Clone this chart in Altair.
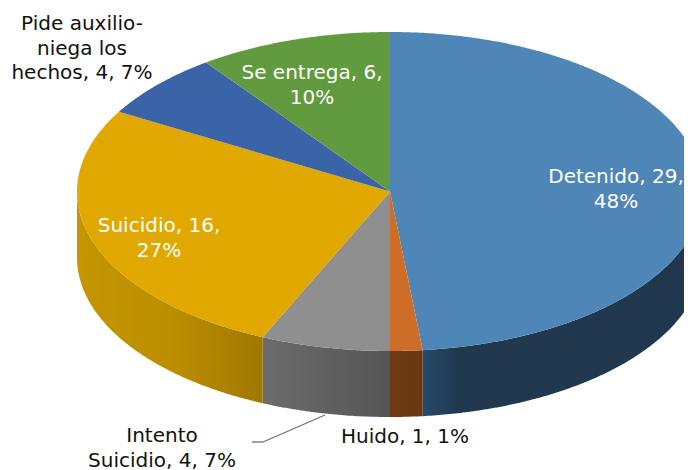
import math
import altair as alt

categories = ["Detenido", "Huido", "Intento Suicidio", "Suicidio", "Pide auxilio-niega los hechos", "Se entrega"]
counts = [29, 1, 4, 16, 4, 6]
top_colors = ["#4F86B8", "#CD6D28", "#8F8F8F", "#E0A800", "#3B63A8", "#629A40"]
wall_stops = [
    [(0, "#28496A"), (0.12, "#21394F"), (1, "#20374D")],
    [(0, "#6E3A16"), (1, "#6A3714")],
    [(0, "#6C6C6C"), (1, "#555555")],
    [(0, "#C49500"), (0.5, "#BC8F00"), (1, "#A07800")],
    [(0, "#3B63A8"), (1, "#3B63A8")],
    [(0, "#629A40"), (1, "#629A40")],
]
labels = [
    "Detenido, 29,\n48%",
    "Huido, 1, 1%",
    "Intento\nSuicidio, 4, 7%",
    "Suicidio, 16,\n27%",
    "Pide auxilio-\nniega los\nhechos, 4, 7%",
    "Se entrega, 6,\n10%",
]
label_colors = ["white", "#111111", "#111111", "white", "#111111", "white"]

# layout, chart pixels
CX, CY, RX, RY, DEPTH = 382.0, 183.5, 313.0, 159.5, 66.0
label_pos = [(608, 175), (397, 435), (154, 434), (151, 224), (74, 22), (304, 71)]
FONT = "DejaVu Sans"
FS = 20
LH = 24.5


def pt(deg, dy=0.0):
    a = math.radians(deg)
    return [CX + RX * math.sin(a), CY - RY * math.cos(a) + dy]


def arc(a, b):
    n = max(2, int(abs(b - a) * 2))
    return [a + (b - a) * i / n for i in range(n + 1)]


def feature(ring):
    return {"type": "Feature", "properties": {}, "geometry": {"type": "Polygon", "coordinates": [ring + [ring[0]]]}}


PROJ = dict(type="identity", scale=1, translate=[0, 0])
layers = []

total = sum(counts)
spans = []
c = 0
for v in counts:
    spans.append((c / total * 360, (c + v) / total * 360))
    c += v

# side walls
for (a, b), stops in zip(spans, wall_stops):
    lo, hi = max(a, 90), min(b, 270)
    if hi <= lo:
        continue
    angs = arc(lo, hi)
    ring = [pt(t) for t in angs] + [pt(t, DEPTH) for t in reversed(angs)]
    layers.append(
        alt.Chart(alt.Data(values=[feature(ring)])).mark_geoshape(
            clip=True,
            strokeWidth=0,
            fill=alt.Gradient(
                gradient="linear", x1=0, x2=1, y1=0, y2=0,
                stops=[alt.GradientStop(offset=o, color=s) for o, s in stops],
            ),
        ).project(**PROJ)
    )

# top faces
for (a, b), col in zip(spans, top_colors):
    ring = [[CX, CY]] + [pt(t) for t in arc(a, b)]
    layers.append(
        alt.Chart(alt.Data(values=[feature(ring)])).mark_geoshape(clip=True, strokeWidth=0, fill=col).project(**PROJ)
    )

# leader line
for x1, y1, x2, y2 in [(244, 434, 255, 434), (255, 434, 317, 407)]:
    layers.append(
        alt.Chart(alt.Data(values=[{"k": "leader"}])).mark_rule(color="#707070", strokeWidth=1.3).encode(
            x=alt.value(x1), x2=alt.value(x2), y=alt.value(y1), y2=alt.value(y2)
        )
    )

# labels
for text, col, (x, y) in zip(labels, label_colors, label_pos):
    layers.append(
        alt.Chart(alt.Data(values=[{"t": text}])).mark_text(
            font=FONT, fontSize=FS, color=col, align="center", baseline="alphabetic",
            lineBreak="\n", lineHeight=LH,
        ).encode(text="t:N", x=alt.value(x), y=alt.value(y))
    )

chart = alt.layer(*layers).properties(
    width=676, height=462, padding=0, background="white"
).configure_view(stroke=None)

chart.save("out.html", embed_options={"renderer": "svg", "actions": False})
